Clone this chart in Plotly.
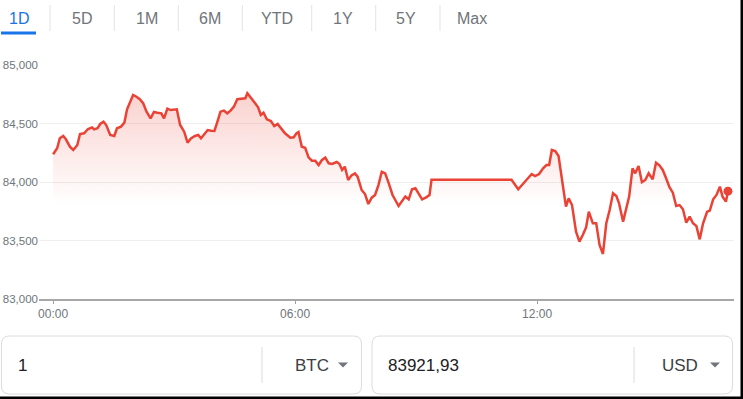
import pandas as pd
import plotly.graph_objects as go

# ---------------- data ----------------
minutes = [0, 6, 10, 15, 19, 25, 30, 36, 40, 46, 52, 58, 61, 66, 70, 75, 79, 85, 91, 95,
           101, 106, 110, 119, 124, 129, 134, 139, 145, 150, 155, 161, 165, 170, 175, 180,
           184, 189, 195, 200, 205, 211, 216, 220, 225, 230, 235, 240, 244, 249, 254, 259,
           264, 269, 274, 279, 286, 289, 294, 300, 305, 309, 313, 318, 324, 329, 334, 339,
           345, 353, 358, 362, 365, 370, 375, 380, 385, 390, 395, 400, 405, 410, 415, 422,
           426, 430, 434, 439, 444, 449, 453, 459, 464, 469, 474, 479, 484, 489, 494, 499,
           505, 514, 519, 524, 529, 534, 539, 543, 549, 555, 560, 563, 682, 692, 700, 706,
           712, 717, 723, 729, 734, 738, 742, 747, 752, 755, 759, 763, 767, 772, 778, 783,
           788, 793, 797, 803, 808, 813, 818, 823, 828, 833, 838, 842, 848, 852, 857, 862,
           866, 871, 876, 881, 886, 892, 897, 902, 907, 912, 917, 922, 927, 932, 937, 942,
           947, 952, 957, 962, 967, 973, 977, 982, 987, 992, 996, 1001, 1004]
prices = [84237, 84288, 84374, 84393, 84365, 84302, 84274, 84316, 84410, 84416, 84453, 84467,
          84450, 84459, 84496, 84516, 84487, 84402, 84393, 84459, 84473, 84507, 84621, 84744,
          84729, 84707, 84673, 84601, 84544, 84598, 84592, 84587, 84544, 84627, 84615, 84615,
          84621, 84487, 84430, 84336, 84373, 84393, 84402, 84373, 84407, 84444, 84438, 84436,
          84507, 84601, 84610, 84587, 84610, 84644, 84707, 84712, 84715, 84758, 84724, 84678,
          84638, 84573, 84592, 84536, 84521, 84479, 84496, 84459, 84416, 84379, 84382, 84416,
          84427, 84302, 84293, 84211, 84182, 84182, 84145, 84188, 84208, 84160, 84154, 84171,
          84154, 84103, 84131, 84017, 84057, 84074, 84046, 83932, 83897, 83812, 83866, 83889,
          83974, 84088, 84074, 83994, 83889, 83795, 83832, 83875, 83852, 83938, 83946, 83909,
          83852, 83869, 83889, 84020, 84020, 83938, 83989, 84032, 84068, 84051, 84068, 84117,
          84145, 84145, 84274, 84265, 84222, 84103, 83946, 83789, 83860, 83803, 83575, 83490,
          83547, 83613, 83746, 83647, 83647, 83462, 83385, 83647, 83761, 83903, 83880, 83818,
          83661, 83761, 83875, 84117, 84074, 84137, 83998, 84017, 84074, 84023, 84165, 84143,
          84103, 84032, 83955, 83909, 83795, 83803, 83767, 83653, 83704, 83647, 83624, 83510,
          83647, 83746, 83755, 83852, 83889, 83960, 83875, 83832, 83922]
y_ticks = [83000, 83500, 84000, 84500, 85000]
x_tick_hours = [0, 6, 12]
x_tick_labels = ["00:00", "06:00", "12:00"]
tabs = ["1D", "5D", "1M", "6M", "YTD", "1Y", "5Y", "Max"]
amount_from, unit_from = "1", "BTC"
amount_to, unit_to = "83921,93", "USD"

# ---------------- styles ----------------
RED = "#ea4335"
GREY_TXT = "#70757a"
BLUE = "#1a73e8"
FONT = "Liberation Sans, Arial, sans-serif"
W, H = 743, 399
ML, MR, MT, MB = 39, 9, 65, 100
PW, PH = W - ML - MR, H - MT - MB

def px_x(x):
    return (x - ML) / PW

def px_y(y):
    return (H - MB - y) / PH

base = pd.Timestamp("2025-03-29 00:00")
times = base + pd.to_timedelta(minutes, unit="m")

fig = go.Figure()
fig.add_trace(go.Scatter(
    x=times, y=prices, mode="lines",
    line=dict(color=RED, width=2.5),
    fill="tozeroy",
    fillgradient=dict(type="vertical",
                      colorscale=[[0, "rgba(234,67,53,0)"], [1, "rgba(234,67,53,0.24)"]],
                      start=83800, stop=84760),
    hoverinfo="skip", showlegend=False))
fig.add_trace(go.Scatter(
    x=[times[-1]], y=[prices[-1]], mode="markers",
    marker=dict(color=RED, size=9), hoverinfo="skip", showlegend=False))

shapes = []
annotations = []

def rect(x0, y0, x1, y1, **kw):
    shapes.append(dict(type="rect", xref="paper", yref="paper",
                       x0=px_x(x0), x1=px_x(x1), y0=px_y(y1), y1=px_y(y0), layer="above", **kw))

def vline(x, y0, y1, color, width=1):
    shapes.append(dict(type="line", xref="paper", yref="paper",
                       x0=px_x(x), x1=px_x(x), y0=px_y(y0), y1=px_y(y1),
                       line=dict(color=color, width=width), layer="above"))

def rounded(x0, y0, x1, y1, r, color):
    P = lambda x, y: f"{px_x(x):.5f},{px_y(y):.5f}"
    path = (f"M {P(x0 + r, y0)} L {P(x1 - r, y0)} Q {P(x1, y0)} {P(x1, y0 + r)} "
            f"L {P(x1, y1 - r)} Q {P(x1, y1)} {P(x1 - r, y1)} L {P(x0 + r, y1)} "
            f"Q {P(x0, y1)} {P(x0, y1 - r)} L {P(x0, y0 + r)} Q {P(x0, y0)} {P(x0 + r, y0)} Z")
    shapes.append(dict(type="path", xref="paper", yref="paper", path=path,
                       line=dict(color=color, width=1), layer="above"))

def triangle(cx, cy, color):
    P = lambda x, y: f"{px_x(x):.5f},{px_y(y):.5f}"
    path = f"M {P(cx - 5, cy - 2.5)} L {P(cx + 5, cy - 2.5)} L {P(cx, cy + 2.5)} Z"
    shapes.append(dict(type="path", xref="paper", yref="paper", path=path,
                       fillcolor=color, line=dict(width=0), layer="above"))

def text(x, y, s, size, color, anchor="center"):
    annotations.append(dict(x=px_x(x), y=px_y(y), xref="paper", yref="paper", text=s,
                            showarrow=False, xanchor=anchor, yanchor="middle",
                            font=dict(family=FONT, size=size, color=color)))

# tabs
tab_centers = [18.8, 81.7, 146.7, 210, 276.5, 342.5, 406, 472]
seps = [50, 114.3, 178.3, 242.3, 311.7, 375.7, 440]
for i, (t, cx) in enumerate(zip(tabs, tab_centers)):
    text(cx, 18.5, t, 16, BLUE if i == 0 else GREY_TXT)
for sx in seps:
    vline(sx, 5, 31, "#e3e3e3")
rect(1, 31.5, 36, 34.5, fillcolor=BLUE, line=dict(width=0))

# converter boxes
rounded(1.5, 336, 361.5, 394, 8, "#dadce0")
rounded(372, 336, 732.5, 394, 8, "#dadce0")
vline(262, 347, 383, "#dadce0")
vline(634, 347, 383, "#dadce0")
text(16, 365, amount_from, 17, "#202124", "left")
text(293, 365, unit_from, 17, "#3c4043", "left")
triangle(343, 365, GREY_TXT)
text(386, 365, amount_to, 17, "#202124", "left")
text(660, 365, unit_to, 17, "#3c4043", "left")
triangle(715, 365, GREY_TXT)

# black frame edges
rect(740.5, 0, 743, 399, fillcolor="black", line=dict(width=0))
rect(0, 396.5, 743, 399, fillcolor="black", line=dict(width=0))

fig.update_layout(
    width=W, height=H,
    margin=dict(l=ML, r=MR, t=MT, b=MB, autoexpand=False),
    paper_bgcolor="white", plot_bgcolor="white",
    font=dict(family=FONT, color=GREY_TXT),
    shapes=shapes, annotations=annotations,
    xaxis=dict(type="date", automargin=False,
               range=[base - pd.Timedelta(minutes=21), base + pd.Timedelta(minutes=1013)],
               tickvals=[base + pd.Timedelta(hours=h) for h in x_tick_hours],
               ticktext=x_tick_labels,
               ticks="outside", ticklen=3, tickcolor="#9aa0a6", tickwidth=1,
               showline=True, linecolor="#a7a7a7", linewidth=2,
               showgrid=False, zeroline=False,
               tickfont=dict(size=12, color=GREY_TXT, family=FONT)),
    yaxis=dict(range=[83000, 85000], tickvals=y_ticks, tickformat=",", automargin=False,
               showgrid=True, gridcolor="#efefef", gridwidth=1,
               showline=False, zeroline=False, ticks="",
               ticklabelstandoff=0,
               tickfont=dict(size=11.5, color=GREY_TXT, family=FONT)),
)

fig.write_html("out.html")
